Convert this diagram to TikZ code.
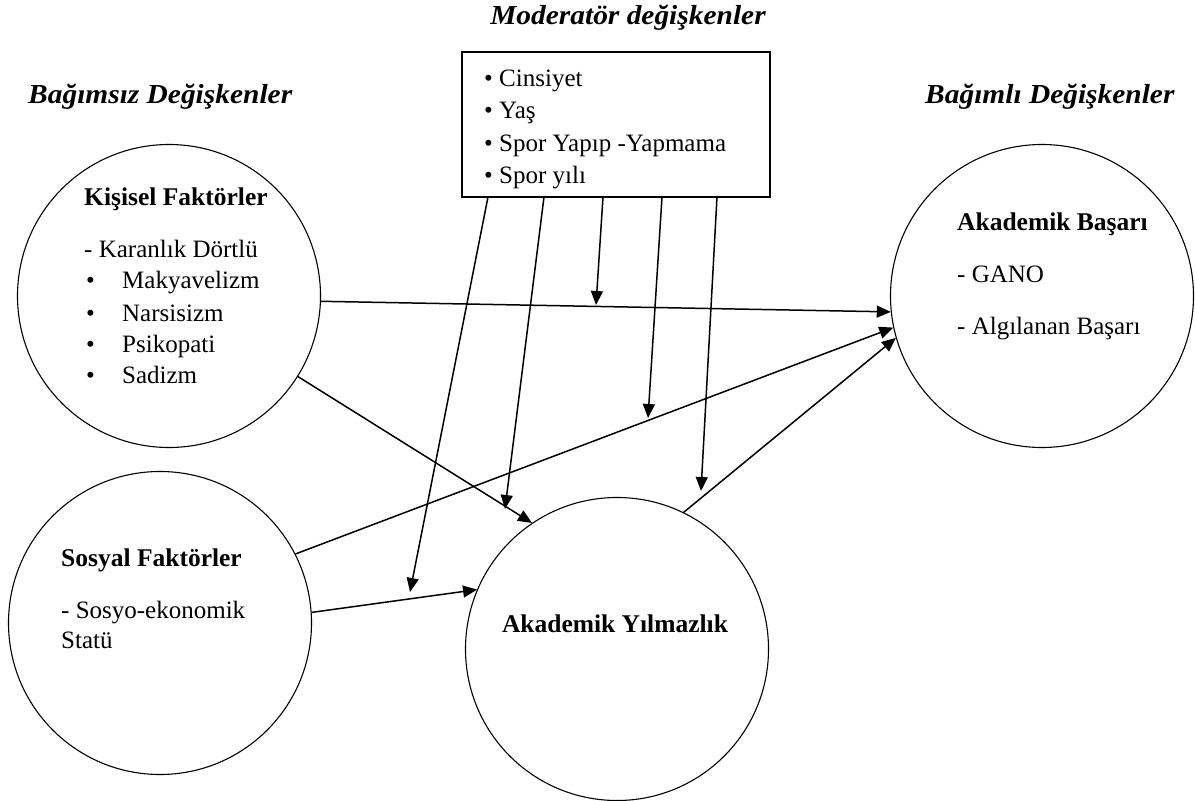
\documentclass[tikz,border=0pt]{standalone}
\usepackage{fontspec}
\setmainfont{Liberation Serif}
\newfontfamily\ttlfont[FakeStretch=1.07]{Liberation Serif}
\usetikzlibrary{arrows.meta}
\begin{document}
\begin{tikzpicture}[x=1bp,y=-1bp,
  circ/.style={draw, circle, minimum size=303bp, inner sep=0pt, line width=1.1bp},
  arr/.style={-{Triangle[length=14bp,width=12bp]}, line width=1.5bp},
  txt/.style={anchor=base west, inner sep=0pt, font=\fontsize{25bp}{29bp}\selectfont},
  btxt/.style={anchor=base west, inner sep=0pt, font=\fontsize{25.5bp}{29bp}\selectfont\bfseries},
  ttl/.style={anchor=base west, inner sep=0pt, font=\ttlfont\fontsize{27.5bp}{30bp}\selectfont\bfseries\itshape},
  modbox/.style={draw, rectangle, line width=1.1bp, minimum width=308bp, minimum height=145bp, inner sep=0pt}
]
\path[use as bounding box] (0,0) rectangle (1195,801);

% titles
\node[ttl, anchor=base] (t1) at (628,25) {Moderatör değişkenler};
\node[ttl] (t2) at (28,104) {Bağımsız Değişkenler};
\node[ttl] (t3) at (925,104) {Bağımlı Değişkenler};

% moderator box
\node[modbox] (M) at (616,124.5) {};
\node[txt] (m1t) at (484,87) {\textbullet\ Cinsiyet};
\node[txt] (m2t) at (484,119) {\textbullet\ Yaş};
\node[txt] (m3t) at (484,151) {\textbullet\ Spor Yapıp -Yapmama};
\node[txt] (m4t) at (484,183) {\textbullet\ Spor yılı};

% circles
\node[circ] (K) at (169,296) {};
\node[circ] (S) at (160,623) {};
\node[circ] (Y) at (617,649) {};
\node[circ] (B) at (1042,296) {};

% Kişisel text
\node[btxt] (k0) at (84,205) {Kişisel Faktörler};
\node[txt] (k1) at (84,257) {- Karanlık Dörtlü};
\node[txt] (k2) at (86,288) {\makebox[36bp][l]{\textbullet}Makyavelizm};
\node[txt] (k3) at (86,321) {\makebox[36bp][l]{\textbullet}Narsisizm};
\node[txt] (k4) at (86,352) {\makebox[36bp][l]{\textbullet}Psikopati};
\node[txt] (k5) at (86,383) {\makebox[36bp][l]{\textbullet}Sadizm};

% Sosyal text
\node[btxt] (s0) at (61,566) {Sosyal Faktörler};
\node[txt] (s1) at (61,618) {- Sosyo-ekonomik};
\node[txt] (s2) at (61,648) {Statü};

% Yılmazlık text
\node[btxt, anchor=base] (y0) at (615,632) {Akademik Yılmazlık};

% Başarı text
\node[btxt] (b0) at (957,230) {Akademik Başarı};
\node[txt] (b1) at (957,282) {- GANO};
\node[txt] (b2) at (957,334) {- Algılanan Başarı};

% main connectors
\draw[arr] (K.-2) -- (B.186);
\draw[arr] (K.-32) -- (Y.124.5);
\draw[arr] (S.27) -- (B.192);
\draw[arr] (S.4) -- (Y.157);
\draw[arr] (Y.64.5) -- (B.196.5);

% moderator connectors
\coordinate (ms1) at (488,197);
\coordinate (ms2) at (544,197);
\coordinate (ms3) at (603,197);
\coordinate (ms4) at (662,197);
\coordinate (ms5) at (717,197);
\coordinate (me1) at (410,592);
\coordinate (me2) at (505,509);
\coordinate (me3) at (596,305);
\coordinate (me4) at (648,418);
\coordinate (me5) at (701,491);
\draw[arr] (ms1) -- (me1);
\draw[arr] (ms2) -- (me2);
\draw[arr] (ms3) -- (me3);
\draw[arr] (ms4) -- (me4);
\draw[arr] (ms5) -- (me5);
\end{tikzpicture}
\end{document}
